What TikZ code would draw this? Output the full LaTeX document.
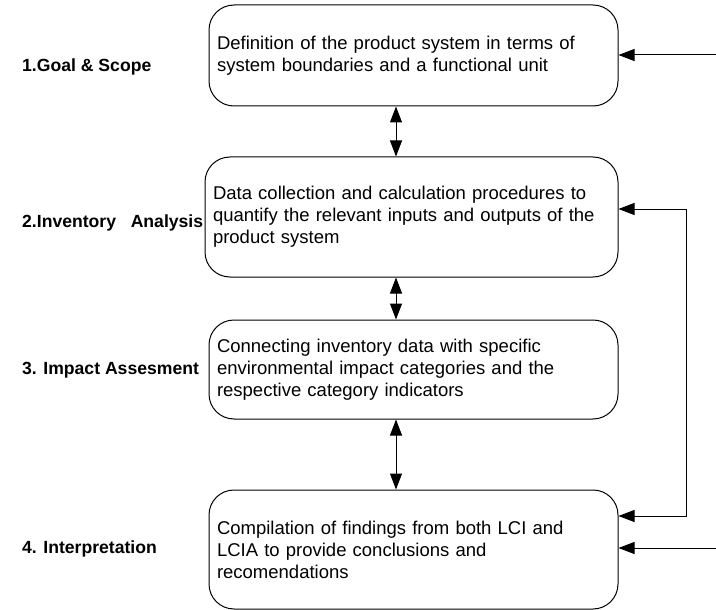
\documentclass[tikz,border=0pt]{standalone}
\usepackage{fontspec}
\setmainfont{Liberation Sans}
\usetikzlibrary{arrows.meta}
\begin{document}
\begin{tikzpicture}[x=1pt,y=-1pt,
  box/.style={draw, line width=1pt, rounded corners=25pt, align=left,
    text width=393pt, inner xsep=8pt, inner ysep=0pt,
    font=\fontsize{18.5}{22}\selectfont},
  lbl/.style={anchor=west, inner sep=0pt, font=\fontsize{17.6}{20}\selectfont\bfseries},
  conn/.style={line width=1pt, {Triangle[length=16pt,width=12pt]}-{Triangle[length=16pt,width=12pt]}},
  inarr/.style={line width=1pt, -{Triangle[length=16pt,width=12pt]}}]
\useasboundingbox (0,0) rectangle (716,610);
\node[box, minimum height=101pt] (b1) at (413.5,55.5)
  {Definition of the product system in terms of\\system boundaries and a functional unit};
\node[box, minimum height=120pt, text width=397pt] (b2) at (411.5,217)
  {\raisebox{-2pt}{}Data collection and calculation procedures to\\quantify the relevant inputs and outputs of the\\product system};
\node[box, minimum height=99pt] (b3) at (413.5,369.5)
  {Connecting inventory data with specific\\environmental impact categories and the\\respective category indicators};
\node[box, minimum height=119pt] (b4) at (413.5,549.5)
  {Compilation of findings from both LCI and\\LCIA to provide conclusions and\\recomendations};
\node[lbl] (l1) at (22,67) {1.Goal \& Scope};
\node[lbl] (l2) at (22,223) {2.Inventory\ \ \ Analysis};
\node[lbl] (l3) at (22,370) {3. Impact Assesment};
\node[lbl] (l4) at (22,549) {4. Interpretation};
\draw[conn] (b1.south -| 396,0) -- (b2.north -| 396,0);
\draw[conn] (b2.south -| 396,0) -- (b3.north -| 396,0);
\draw[conn] (b3.south -| 396,0) -- (b4.north -| 396,0);
\coordinate (i1) at (716,55);
\coordinate (i3) at (716,548);
\coordinate (r2) at (686,209);
\coordinate (r4) at (686,516);
\draw[inarr] (i1) -- (b1.east |- i1);
\draw[conn] (b2.east |- r2) -- (r2) -- (r4) -- (b4.east |- r4);
\draw[inarr] (i3) -- (b4.east |- i3);
\end{tikzpicture}
\end{document}
